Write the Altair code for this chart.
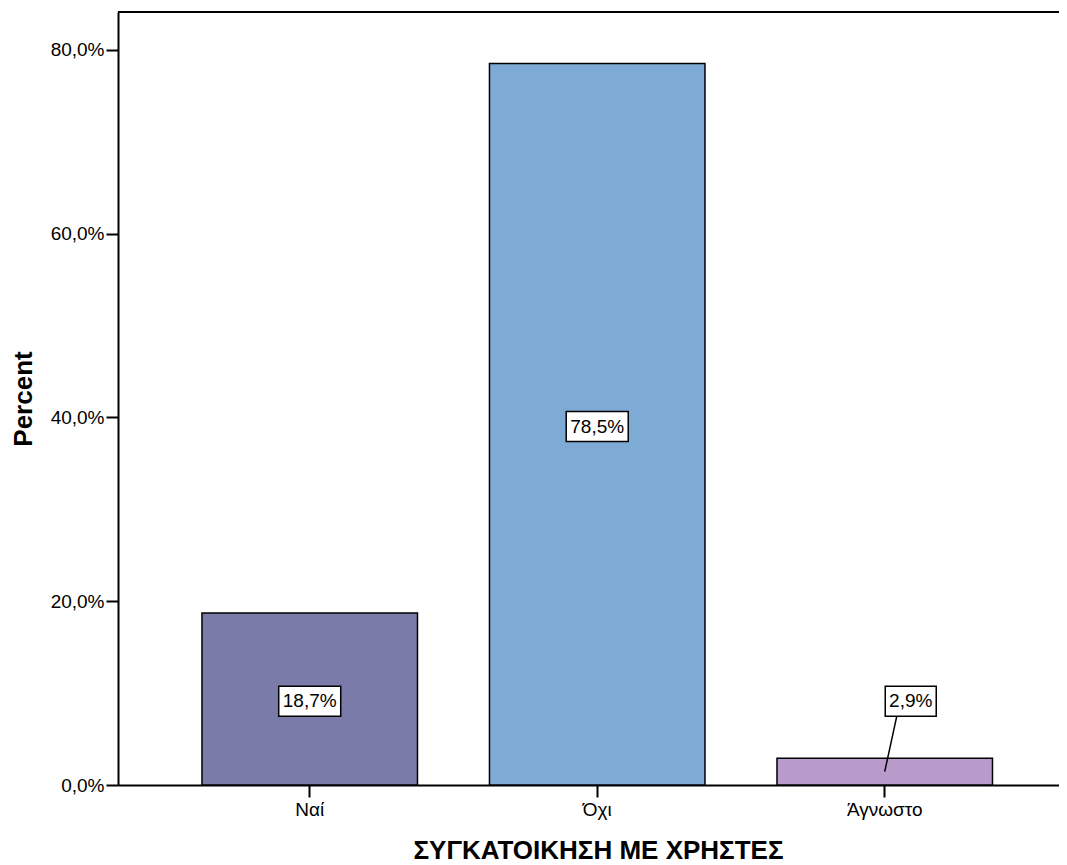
import altair as alt
import pandas as pd

categories = ["Ναί", "Όχι", "Άγνωστο"]
percents = [18.7, 78.5, 2.9]
colors = ["#7B7BAA", "#7DABD6", "#B89BCB"]
label_y = [9.1, 39.0, 9.1]

df = pd.DataFrame({"cat": categories, "pct": percents, "ly": label_y})

FONT = "Liberation Sans"
W, H = 941, 773
YMAX = 84.1
BOX_H = 30 / H * YMAX / 2  # half box height in data units

xscale = alt.Scale(domain=categories, paddingInner=0.2504, paddingOuter=0.2617, align=0.558)
yscale = alt.Scale(domain=[0, YMAX], nice=False, zero=True)

base = alt.Chart(df)

bars = base.mark_bar(stroke="black", strokeWidth=1.5).encode(
    x=alt.X("cat:N", scale=xscale, sort=categories,
            axis=alt.Axis(title="ΣΥΓΚΑΤΟΙΚΗΣΗ ΜΕ ΧΡΗΣΤΕΣ", labelAngle=0, labelFontSize=19,
                          labelFont=FONT, labelColor="black", tickSize=12, tickWidth=2,
                          tickColor="black", domainColor="black", domainWidth=2,
                          labelPadding=3, titleFont=FONT, titleFontSize=26,
                          titleFontWeight="bold", titleColor="black", titlePadding=18,
                          titleX=480)),
    y=alt.Y("pct:Q", scale=yscale,
            axis=alt.Axis(title="Percent", values=[0, 20, 40, 60, 80],
                          labelExpr="replace(format(datum.value, '.1f'), '.', ',') + '%'",
                          labelFontSize=19, labelFont=FONT, labelColor="black",
                          tickSize=12, tickWidth=2, tickColor="black", domainColor="black",
                          domainWidth=2, labelPadding=2, grid=False, titleFont=FONT,
                          titleFontSize=26, titleFontWeight="bold", titleColor="black",
                          titlePadding=14)),
    color=alt.Color("cat:N", scale=alt.Scale(domain=categories, range=colors), legend=None),
)

lab = base.transform_calculate(
    txt="replace(format(datum.pct, '.1f'), '.', ',') + '%'",
    y1=f"datum.ly - {BOX_H}",
    y2=f"datum.ly + {BOX_H}",
)

big = lab.transform_filter("datum.pct >= 5")
small = lab.transform_filter("datum.pct < 5")

box_big = big.mark_bar(width=62, fill="white", stroke="black", strokeWidth=1.5).encode(
    x=alt.X("cat:N", scale=xscale, sort=categories),
    y=alt.Y("y1:Q", scale=yscale), y2="y2:Q")
txt_big = big.mark_text(font=FONT, fontSize=19, color="black", baseline="middle").encode(
    x=alt.X("cat:N", scale=xscale, sort=categories),
    y=alt.Y("ly:Q", scale=yscale), text="txt:N")

leader = small.transform_calculate(half="datum.pct / 2", top=f"datum.ly - {BOX_H}").mark_rule(
    color="black", strokeWidth=1.5, x2Offset=12).encode(
    x=alt.X("cat:N", scale=xscale, sort=categories),
    x2="cat:N",
    y=alt.Y("half:Q", scale=yscale), y2="top:Q")
box_small = small.mark_bar(width=51, xOffset=26, fill="white", stroke="black", strokeWidth=1.5).encode(
    x=alt.X("cat:N", scale=xscale, sort=categories),
    y=alt.Y("y1:Q", scale=yscale), y2="y2:Q")
txt_small = small.mark_text(font=FONT, fontSize=19, color="black", baseline="middle", dx=26).encode(
    x=alt.X("cat:N", scale=xscale, sort=categories),
    y=alt.Y("ly:Q", scale=yscale), text="txt:N")

topline = alt.Chart(df).mark_rule(color="black", strokeWidth=2).encode(
    x=alt.value(0), x2=alt.value(W), y=alt.value(0))

chart = alt.layer(bars, box_big, txt_big, leader, box_small, txt_small, topline).properties(
    width=W, height=H,
    padding={"left": 110, "top": 4, "right": 0, "bottom": 82},
    autosize=alt.AutoSizeParams(type="none"),
).configure_view(stroke=None).configure(background="white")

chart.save("out.html", embed_options={"renderer": "svg", "actions": False})
